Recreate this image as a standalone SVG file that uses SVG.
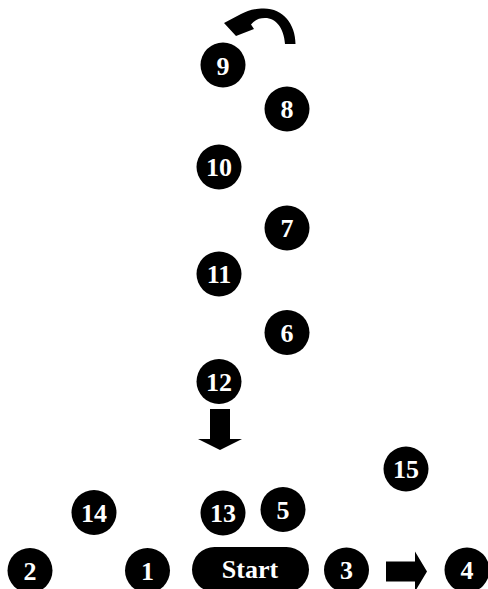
<svg xmlns="http://www.w3.org/2000/svg" width="488" height="589" viewBox="0 0 488 589">
<style>
.n circle{fill:#000}
.n rect{fill:#000}
.n text{fill:#fff;font-family:"Liberation Serif","Times New Roman",serif;font-weight:bold;font-size:26px;text-anchor:middle}
.c path{fill:#000;stroke:none}
</style>
<rect width="488" height="589" fill="#fff"/>
<g class="c" id="connectors">
<path d="M295.5,44 C295.5,24 283,8.5 264,8.5 C254,8.5 247,11 241,14 L224,23 L236,36 L254,29 L251,24.5 C255,20 259,18 265,18 C276,18 284,28 285,44 Z"/>
<path d="M210,409 L230,409 L230,439 L242,439 L220,450 L198,439 L210,439 Z"/>
<path d="M386,561.5 L415,561.5 L415,551.5 L427,571.5 L415,591.5 L415,581.5 L386,581.5 Z"/>
</g>
<g class="n" id="start"><rect x="192" y="547" width="117" height="45" rx="22.5"/><text x="250" y="578">Start</text></g>
<g class="n" id="n1"><circle cx="147.5" cy="570.5" r="22.5"/><text x="147.5" y="579.5">1</text></g>
<g class="n" id="n2"><circle cx="30" cy="570.5" r="22.5"/><text x="30" y="579.5">2</text></g>
<g class="n" id="n3"><circle cx="346.5" cy="570" r="22.5"/><text x="346.5" y="579">3</text></g>
<g class="n" id="n4"><circle cx="467" cy="570" r="22.5"/><text x="467" y="579">4</text></g>
<g class="n" id="n5"><circle cx="283" cy="509.5" r="22.5"/><text x="283" y="518.5">5</text></g>
<g class="n" id="n6"><circle cx="287" cy="332.5" r="22.5"/><text x="287" y="341.5">6</text></g>
<g class="n" id="n7"><circle cx="287" cy="228" r="22.5"/><text x="287" y="237">7</text></g>
<g class="n" id="n8"><circle cx="287" cy="109" r="22.5"/><text x="287" y="118">8</text></g>
<g class="n" id="n9"><circle cx="223" cy="65" r="22.5"/><text x="223" y="74.5">9</text></g>
<g class="n" id="n10"><circle cx="219" cy="167" r="22.5"/><text x="219" y="176">10</text></g>
<g class="n" id="n11"><circle cx="219" cy="274" r="22.5"/><text x="219" y="283">11</text></g>
<g class="n" id="n12"><circle cx="219" cy="381.5" r="22.5"/><text x="219" y="390.5">12</text></g>
<g class="n" id="n13"><circle cx="223" cy="513" r="22.5"/><text x="223" y="522">13</text></g>
<g class="n" id="n14"><circle cx="94" cy="512.5" r="22.5"/><text x="94" y="521.5">14</text></g>
<g class="n" id="n15"><circle cx="406" cy="469" r="22.5"/><text x="406" y="478">15</text></g>
</svg>
